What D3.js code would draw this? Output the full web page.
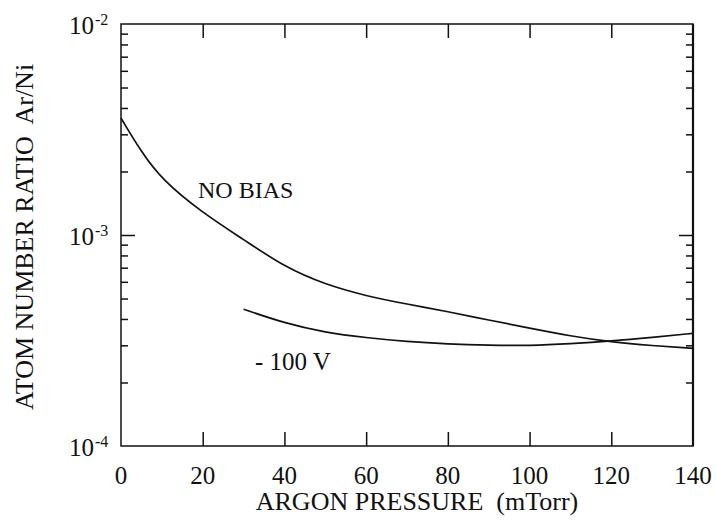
<!DOCTYPE html>
<html>
<head>
<meta charset="utf-8">
<script src="https://cdn.jsdelivr.net/npm/d3@7/dist/d3.min.js"></script>
<style>
  html, body { margin: 0; padding: 0; background: #fff; }
  svg text { font-family: "Liberation Serif", "DejaVu Serif", serif; }
</style>
</head>
<body>
<svg id="chart" width="716" height="525"></svg>
<script>
// Argon pressure (mTorr) tick values
const xTicks = [0, 20, 40, 60, 80, 100, 120, 140];
// Decade exponents on the log axis
const yExponents = [-2, -3, -4];
// Ar/Ni ratio without substrate bias
const noBiasPressure = [0, 5, 10, 20, 30, 40, 50, 60, 70, 80, 90, 100, 110, 120, 130, 140];
const noBiasRatio = [3.58e-3, 2.47e-3, 1.83e-3, 1.27e-3, 9.53e-4, 7.05e-4, 5.82e-4, 5.14e-4, 4.70e-4, 4.34e-4, 3.95e-4, 3.62e-4, 3.32e-4, 3.11e-4, 2.99e-4, 2.9e-4];
// Ar/Ni ratio with -100 V bias
const biasPressure = [30, 40, 50, 60, 70, 80, 90, 100, 110, 120, 130, 140];
const biasRatio = [4.45e-4, 3.82e-4, 3.45e-4, 3.26e-4, 3.12e-4, 3.04e-4, 3.0e-4, 2.99e-4, 3.05e-4, 3.14e-4, 3.27e-4, 3.42e-4];

(function drawChart() {
  const svg = d3.select("#chart");
  const plotL = 121, plotR = 693, plotT = 24, plotB = 446;
  const serif = "'Liberation Serif', 'DejaVu Serif', serif";

  const x = d3.scaleLinear().domain([0, 140]).range([plotL, plotR]);
  const y = d3.scaleLog().domain([1e-4, 1e-2]).range([plotB, plotT]);

  const ink = "#111";
  const minorVals = [];
  [1e-4, 1e-3].forEach(d => { for (let k = 2; k <= 9; k++) minorVals.push(d * k); });
  const majorInner = [1e-3];
  const xInner = xTicks.slice(1, -1);

  // Bottom and top ticks pointing inward
  svg.append("g").attr("transform", `translate(0,${plotB})`)
    .call(d3.axisBottom(x).tickValues(xInner).tickSizeInner(-14).tickSizeOuter(0).tickFormat(""))
    .call(g => g.select(".domain").remove());
  svg.append("g").attr("transform", `translate(0,${plotT})`)
    .call(d3.axisTop(x).tickValues(xInner).tickSizeInner(-14).tickSizeOuter(0).tickFormat(""))
    .call(g => g.select(".domain").remove());

  // Left and right log ticks (major + minor) pointing inward
  [[d3.axisLeft, plotL], [d3.axisRight, plotR]].forEach(([ax, pos]) => {
    svg.append("g").attr("transform", `translate(${pos},0)`)
      .call(ax(y).tickValues(minorVals).tickSizeInner(-7).tickSizeOuter(0).tickFormat(""))
      .call(g => g.select(".domain").remove());
    svg.append("g").attr("transform", `translate(${pos},0)`)
      .call(ax(y).tickValues(majorInner).tickSizeInner(-14).tickSizeOuter(0).tickFormat(""))
      .call(g => g.select(".domain").remove());
  });
  svg.selectAll(".tick line").attr("stroke", ink).attr("stroke-width", 1.5);

  // Plot frame (right edge drawn a little heavier)
  svg.append("rect")
    .attr("x", plotL).attr("y", plotT)
    .attr("width", plotR - plotL).attr("height", plotB - plotT)
    .attr("fill", "none").attr("stroke", ink).attr("stroke-width", 1.5);
  svg.append("line")
    .attr("x1", plotR).attr("x2", plotR).attr("y1", plotT).attr("y2", plotB)
    .attr("stroke", ink).attr("stroke-width", 2.2);

  // X tick labels
  svg.append("g").selectAll("text").data(xTicks).join("text")
    .attr("x", d => x(d)).attr("y", 484)
    .attr("text-anchor", "middle").attr("font-size", 25).attr("fill", ink)
    .attr("font-family", serif)
    .text(d => d);

  // Y tick labels: 10 with superscript exponent
  const yl = svg.append("g").selectAll("g").data(yExponents).join("g");
  yl.append("text")
    .attr("x", 94).attr("y", d => y(Math.pow(10, d)) + 10)
    .attr("text-anchor", "end").attr("font-size", 25).attr("fill", ink)
    .attr("font-family", serif)
    .text("10");
  yl.append("text")
    .attr("x", 95).attr("y", d => y(Math.pow(10, d)) + 1)
    .attr("font-size", 16).attr("fill", ink)
    .attr("font-family", serif)
    .text(d => "-" + Math.abs(d));

  // Axis titles
  svg.append("text")
    .attr("x", 417).attr("y", 510)
    .attr("text-anchor", "middle").attr("font-size", 26).attr("fill", ink)
    .attr("font-family", serif)
    .attr("xml:space", "preserve")
    .text("ARGON PRESSURE  (mTorr)");
  svg.append("text")
    .attr("transform", "translate(33,237) rotate(-90)")
    .attr("text-anchor", "middle").attr("font-size", 26).attr("fill", ink)
    .attr("font-family", serif)
    .attr("xml:space", "preserve")
    .text("ATOM NUMBER RATIO  Ar/Ni");

  // Curves
  const line = d3.line().x(d => x(d[0])).y(d => y(d[1])).curve(d3.curveBasis);
  svg.append("path")
    .datum(noBiasPressure.map((p, i) => [p, noBiasRatio[i]]))
    .attr("d", line).attr("fill", "none").attr("stroke", ink).attr("stroke-width", 1.7);
  svg.append("path")
    .datum(biasPressure.map((p, i) => [p, biasRatio[i]]))
    .attr("d", line).attr("fill", "none").attr("stroke", ink).attr("stroke-width", 1.7);

  // Curve labels
  svg.append("text").attr("x", 198).attr("y", 198)
    .attr("font-size", 24).attr("fill", ink).attr("font-family", serif).text("NO BIAS");
  svg.append("text").attr("x", 255).attr("y", 370)
    .attr("font-size", 25).attr("fill", ink).attr("font-family", serif)
    .attr("xml:space", "preserve").text("- 100 V");
})();
</script>
</body>
</html>
